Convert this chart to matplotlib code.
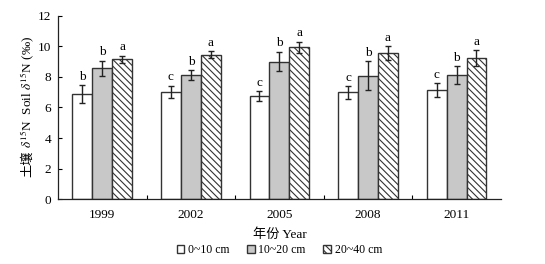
import numpy as np
import matplotlib
matplotlib.use("Agg")
import matplotlib.pyplot as plt

plt.rcParams['font.family'] = ['Liberation Serif', 'Noto Sans CJK SC']
plt.rcParams['mathtext.fontset'] = 'stix'
plt.rcParams['hatch.linewidth'] = 0.8

# data
years = ['1999', '2002', '2005', '2008', '2011']
layers = ['0~10 cm', '10~20 cm', '20~40 cm']
mean_0_10 = [6.88, 7.02, 6.75, 6.98, 7.13]
err_0_10 = [0.57, 0.40, 0.32, 0.43, 0.44]
mean_10_20 = [8.56, 8.11, 9.00, 8.06, 8.11]
err_10_20 = [0.49, 0.32, 0.65, 0.95, 0.59]
mean_20_40 = [9.14, 9.44, 9.92, 9.57, 9.22]
err_20_40 = [0.25, 0.22, 0.38, 0.45, 0.50]
sig_0_10 = ['b', 'c', 'c', 'c', 'c']
sig_10_20 = ['b', 'b', 'b', 'b', 'b']
sig_20_40 = ['a', 'a', 'a', 'a', 'a']

fig = plt.figure(figsize=(5.45, 2.64), dpi=100)
ax = fig.add_axes([0.1064, 0.245, 0.8126, 0.696])

x = np.arange(len(years))
w = 0.225
ec = '#333333'
series = [
    (mean_0_10, err_0_10, sig_0_10, 'white', None),
    (mean_10_20, err_10_20, sig_10_20, '#c8c8c8', None),
    (mean_20_40, err_20_40, sig_20_40, 'white', '\\\\\\\\\\'),
]
for i, (m, e, s, fc, h) in enumerate(series):
    pos = x + (i - 1) * w
    ax.bar(pos, m, w, color=fc, edgecolor=ec, linewidth=1.0, hatch=h,
           label=layers[i])
    ax.errorbar(pos, m, yerr=e, fmt='none', ecolor='#222222', elinewidth=1.0,
                capsize=2.5, capthick=1.0)
    for p, v, ee, t in zip(pos, m, e, s):
        ax.text(p, v + ee + 0.15, t, ha='center', va='bottom', fontsize=9.5)

ax.set_xlim(-0.5, len(years) - 0.5)
ax.set_ylim(0, 12)
ax.set_yticks(np.arange(0, 13, 2))
ax.set_xticks(x)
ax.set_xticklabels(years)
ax.set_xticks(np.arange(0.5, len(years) - 0.5, 1), minor=True)
ax.tick_params(axis='x', which='major', length=0, labelsize=9.5, pad=7)
ax.tick_params(axis='x', which='minor', direction='in', length=3, width=0.8)
ax.tick_params(axis='y', direction='in', length=3, width=0.8, labelsize=9.5, pad=5)
for sp in ['top', 'right']:
    ax.spines[sp].set_visible(False)
for sp in ['left', 'bottom']:
    ax.spines[sp].set_linewidth(0.9)
    ax.spines[sp].set_color('#222222')

ax.set_xlabel('年份 Year', fontsize=9.5, labelpad=5)

# y label: Chinese part separately (mathtext has no font fallback)
ylab_x = -0.068
t_en = ax.text(ylab_x, 0.585, r'$\delta^{15}$N  Soil $\delta^{15}$N (‰)', rotation=90,
               transform=ax.transAxes, ha='center', va='center', fontsize=9.5)
fig.canvas.draw()
bb = t_en.get_window_extent().transformed(ax.transAxes.inverted())
ax.text(ylab_x, bb.y0 - 0.015, '土壤', rotation=90, transform=ax.transAxes,
        ha='center', va='top', fontsize=9.5, family='Noto Sans CJK SC')

ax.legend(loc='upper center', bbox_to_anchor=(0.5, -0.2), ncol=3, frameon=False,
          fontsize=8.5, handlelength=0.65, handleheight=0.65, handletextpad=0.3,
          columnspacing=1.5, borderpad=0.2)

fig.savefig('out.png', dpi=100)
